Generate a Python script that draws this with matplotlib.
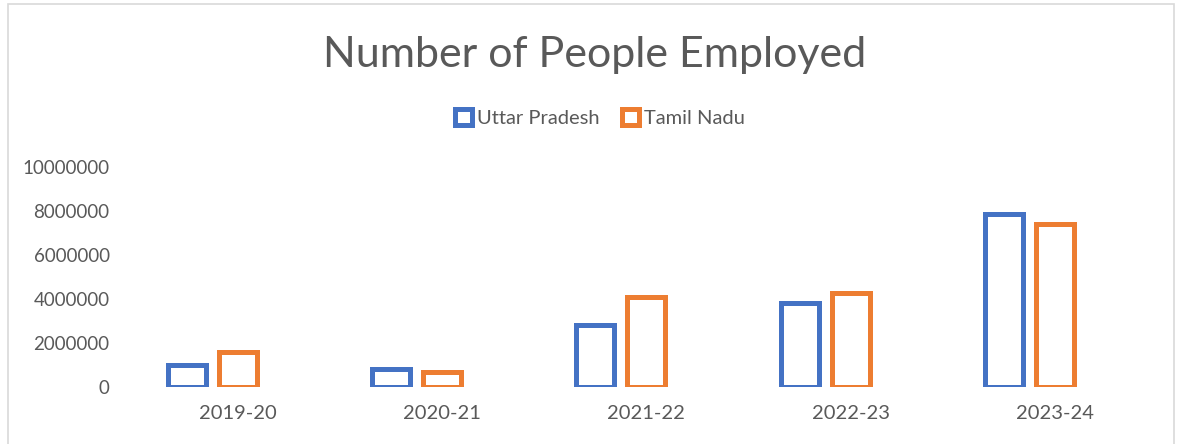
import numpy as np
import matplotlib.pyplot as plt
from matplotlib.patches import Rectangle

plt.rcParams['font.family'] = ['Lato', 'DejaVu Sans']

# data
years = ['2019-20', '2020-21', '2021-22', '2022-23', '2023-24']
uttar_pradesh = [1000000, 840000, 2840000, 3820000, 7860000]
tamil_nadu = [1590000, 660000, 4070000, 4250000, 7430000]
yticks = [0, 2000000, 4000000, 6000000, 8000000, 10000000]

blue = '#4472C4'
orange = '#ED7D31'
grey = '#595959'

fig = plt.figure(figsize=(11.78, 4.44), dpi=100)
ax = fig.add_axes([0.1155, 0.1284, 0.8665, 0.4955])

# chart frame
fig.patches.append(Rectangle((0.007, -0.05), 0.99, 1.04, transform=fig.transFigure,
                             fill=False, edgecolor='#D9D9D9', linewidth=1.2))

x = np.arange(len(years))
w = 0.186
ax.bar(x - 0.25, uttar_pradesh, width=w, facecolor='white', edgecolor=blue,
       linewidth=3.6, label='Uttar Pradesh')
ax.bar(x, tamil_nadu, width=w, facecolor='white', edgecolor=orange,
       linewidth=3.6, label='Tamil Nadu')

ax.set_xlim(-0.5, 4.5)
ax.set_ylim(0, 10000000)
ax.set_yticks(yticks)
ax.set_yticklabels([str(v) for v in yticks])
ax.set_xticks(x)
ax.set_xticklabels(years)
ax.tick_params(axis='both', length=0, colors=grey)
ax.tick_params(axis='x', labelsize=14.5, pad=13)
ax.tick_params(axis='y', labelsize=13.5, pad=19)
for s in ax.spines.values():
    s.set_visible(False)

fig.text(0.505, 0.876, 'Number of People Employed', ha='center', va='center',
         fontsize=31, color=grey)

fig.legend(loc='center', bbox_to_anchor=(0.509, 0.735), ncol=2, frameon=False,
           fontsize=14.5, labelcolor=grey, handlelength=0.85, handleheight=0.85,
           handletextpad=0.25, columnspacing=1.1)

fig.savefig('out.png', dpi=100)
